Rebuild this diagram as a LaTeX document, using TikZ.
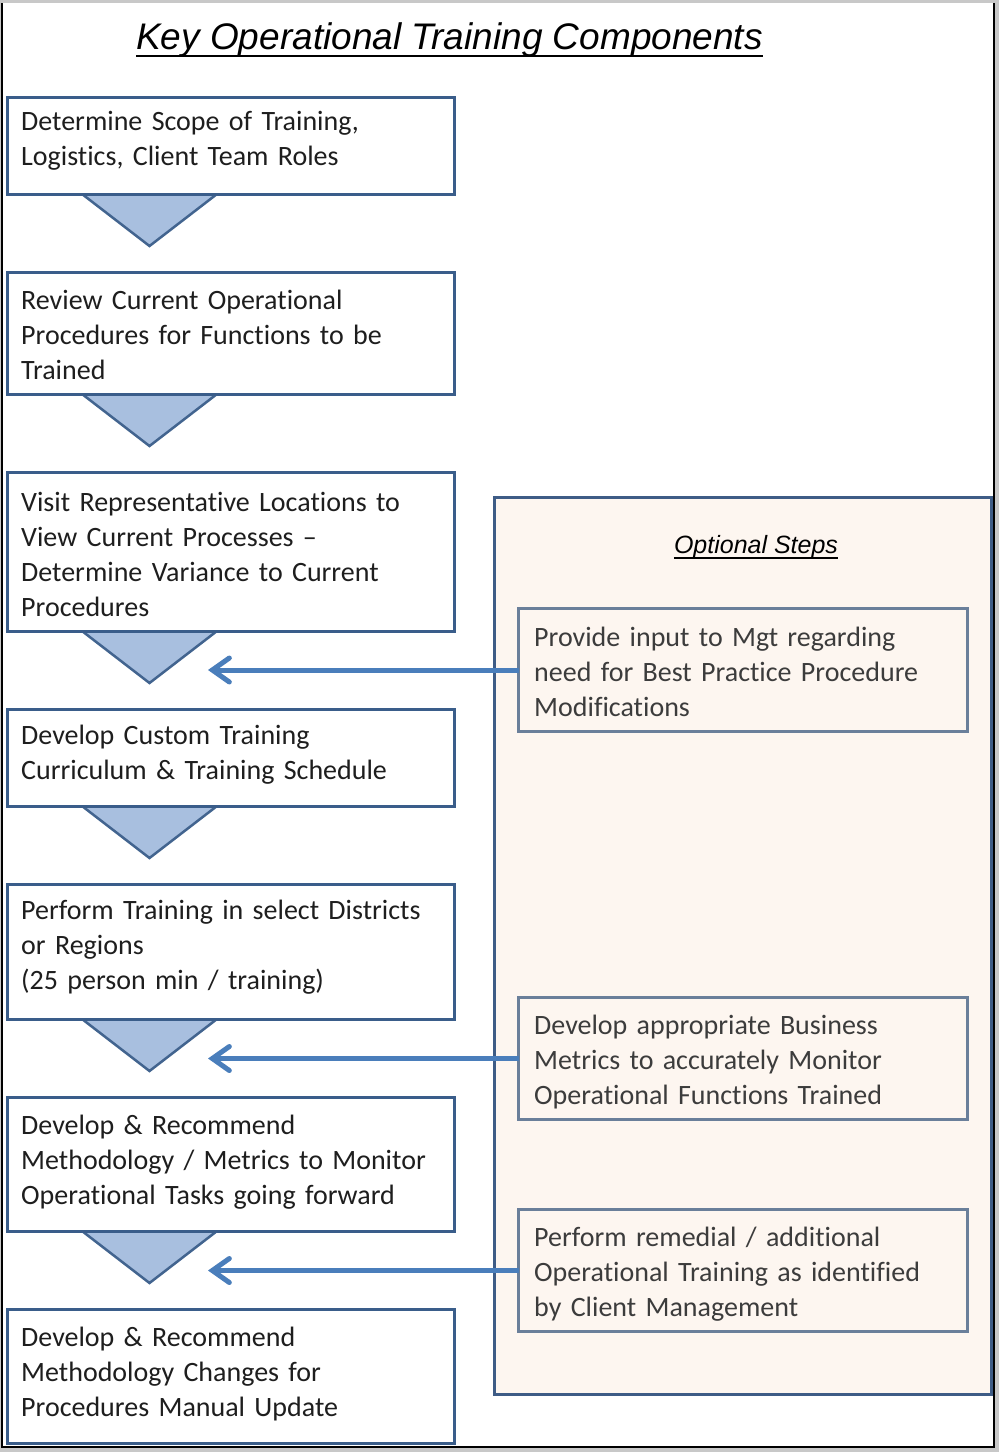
\documentclass[tikz,border=0pt]{standalone}
\usepackage{fontspec}
\setmainfont{Carlito}[Ligatures={NoCommon}]
\newfontfamily\arialfont{Liberation Sans}
\usetikzlibrary{arrows.meta,calc}
\definecolor{boxborder}{HTML}{3A5D8A}
\definecolor{trifill}{HTML}{A8BFDF}
\definecolor{triborder}{HTML}{42648F}
\definecolor{arrowcol}{HTML}{4A7EBB}
\definecolor{optfill}{HTML}{FDF6F0}
\definecolor{optborder}{HTML}{3E5C86}
\definecolor{innerborder}{HTML}{6A7F9A}
\definecolor{frame}{HTML}{C8C8C8}
\definecolor{txt}{HTML}{1E1E1E}
\definecolor{txtgray}{HTML}{3C3C3C}
\begin{document}
\begin{tikzpicture}[x=1pt,y=-1pt,
  stepbox/.style={draw=boxborder,line width=3pt,fill=white,minimum width=447pt,inner sep=0pt,outer sep=0pt},
  optbox/.style={draw=optborder,line width=3pt,fill=optfill,minimum width=497pt,minimum height=897pt,inner sep=0pt,outer sep=0pt},
  innerbox/.style={draw=innerborder,line width=3pt,fill=optfill,minimum width=449pt,inner sep=0pt,outer sep=0pt},
  boxtext/.style={anchor=base west,inner sep=0pt,text width=440pt,align=left,text=txt,font=\fontsize{28}{35}\selectfont},
  innertext/.style={boxtext,text width=430pt,text=txtgray},
  tri/.style={draw=triborder,line width=2.5pt,fill=trifill,line join=miter},
  arr/.style={draw=arrowcol,line width=5pt,-{Straight Barb[length=17pt,width=24pt,line cap=round]}}
]
% frame
\fill[frame] (0,0) rectangle (999,1452);
\fill[white] (2,3) rectangle (994,1447);
\draw[black,line width=1.5pt] (2,3) -- (2,1447) -- (994,1447) -- (994,3);
\useasboundingbox (0,0) rectangle (999,1452);

% title
\node[inner sep=0pt,anchor=base,font=\arialfont\itshape\fontsize{37}{42}\selectfont] (title) at (449.5,49) {Key Operational Training Components};
\draw[line width=2.5pt] ([yshift=-7pt]title.base west) -- ([yshift=-7pt]title.base east);

% triangles (drawn below boxes)
\newcommand{\tridown}[2]{\draw[tri] (82,#1) -- (217,#1) -- (149.5,#2) -- cycle;}
\tridown{194}{246}
\tridown{394}{446}
\tridown{631}{683}
\tridown{806}{858}
\tridown{1019}{1071}
\tridown{1231}{1283}

% left step boxes
\node[stepbox,minimum height=97pt] (b1) at (231,146) {};
\node[stepbox,minimum height=122pt] (b2) at (231,333.5) {};
\node[stepbox,minimum height=159pt] (b3) at (231,552) {};
\node[stepbox,minimum height=97pt] (b4) at (231,758) {};
\node[stepbox,minimum height=135pt] (b5) at (231,952) {};
\node[stepbox,minimum height=134pt] (b6) at (231,1164.5) {};
\node[stepbox,minimum height=134pt] (b7) at (231,1376.5) {};

\node[boxtext] (t1) at (21,130) {Determine Scope of Training,\\Logistics, Client Team Roles};
\node[boxtext] (t2) at (21,309) {Review Current Operational\\Procedures for Functions to be\\Trained};
\node[boxtext] (t3) at (21,511) {Visit Representative Locations to\\View Current Processes --\\Determine Variance to Current\\Procedures};
\node[boxtext] (t4) at (21,744) {Develop Custom Training\\Curriculum \& Training Schedule};
\node[boxtext] (t5) at (21,919) {Perform Training in select Districts\\or Regions\\(25 person min / training)};
\node[boxtext] (t6) at (21,1134) {Develop \& Recommend\\Methodology / Metrics to Monitor\\Operational Tasks going forward};
\node[boxtext] (t7) at (21,1346) {Develop \& Recommend\\Methodology Changes for\\Procedures Manual Update};

% optional steps
\node[optbox] (opt) at (743,946) {};
\node[inner sep=0pt,anchor=base,font=\arialfont\itshape\fontsize{25}{29}\selectfont] (opttitle) at (756,553) {Optional Steps};
\draw[line width=1.5pt] ([yshift=-5pt]opttitle.base west) -- ([yshift=-5pt]opttitle.base east);

\node[innerbox,minimum height=123pt] (ia) at (743,670) {};
\node[innerbox,minimum height=122pt] (ib) at (743,1058.5) {};
\node[innerbox,minimum height=122pt] (ic) at (743,1270.5) {};

\node[innertext] (ta) at (534,646) {Provide input to Mgt regarding\\need for Best Practice Procedure\\Modifications};
\node[innertext] (tb) at (534,1034) {Develop appropriate Business\\Metrics to accurately Monitor\\Operational Functions Trained};
\node[innertext] (tc) at (534,1246) {Perform remedial / additional\\Operational Training as identified\\by Client Management};

% connectors
\coordinate (tipx) at (208,0);
\draw[arr] (ia.west) -- (ia.west -| tipx);
\draw[arr] (ib.west) -- (ib.west -| tipx);
\draw[arr] (ic.west) -- (ic.west -| tipx);
\end{tikzpicture}
\end{document}
